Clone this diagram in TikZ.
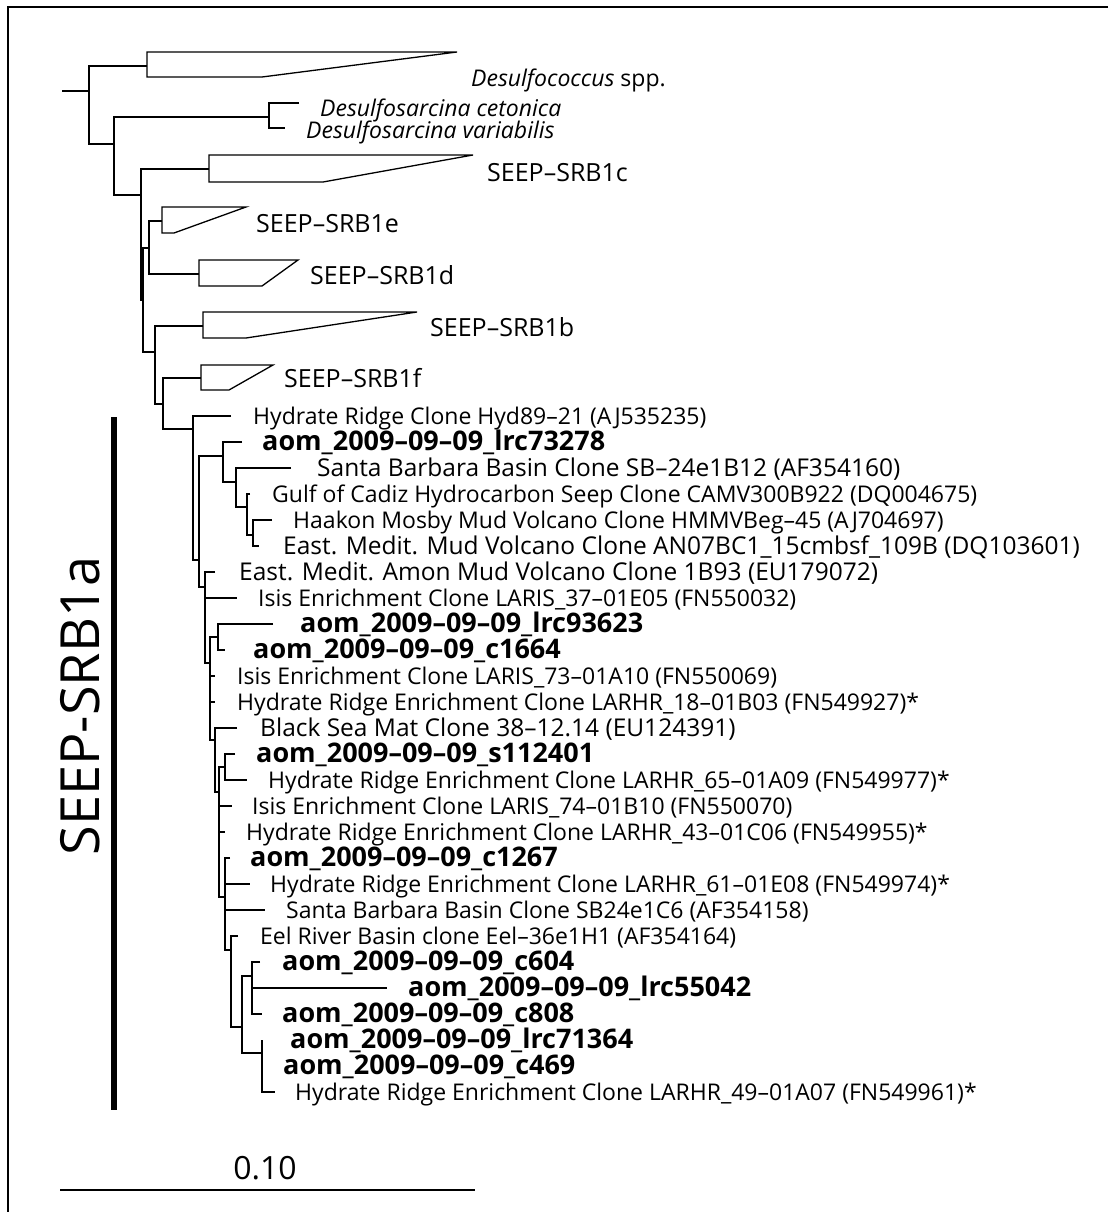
\documentclass[tikz,border=0pt]{standalone}
\usepackage{fontspec}
\setmainfont{Open Sans}
\newcommand{\fs}[1]{\fontsize{#1}{#1}\selectfont}
\begin{document}
\begin{tikzpicture}[x=1pt,y=-1pt,
	br/.style={line width=1.3pt},
	lab/.style={anchor=west,inner sep=0pt,text height=0.75em,text depth=0.22em,font=\fs{23}},
	big/.style={lab,font=\fs{24.5}},
	aom/.style={lab,font=\fs{27}\bfseries},
	grp/.style={lab,font=\fs{25}},
	spp/.style={lab,font=\fs{23}\itshape}]
	\useasboundingbox (0,0) rectangle (1108,1212);
	\draw[line width=2.4pt] (1108,7) -- (8,7) -- (8,1212);

	\draw[br] (62,91) -- (89,91);
	\draw[br] (147,66) -- (89,66) -- (89,144) -- (114,144);
	\draw[br] (147,52) -- (457,52) -- (262,77) -- (147,77) -- cycle;
	\draw[br] (269,117) -- (114,117) -- (114,195) -- (141,195);
	\draw[br] (299,103) -- (269,103) -- (269,128) -- (285,128);
	\draw[br] (209,169) -- (141,169) -- (141,300) -- (143,300);
	\draw[br] (209,155) -- (473,155) -- (323,182) -- (209,182) -- cycle;
	\draw[br] (149,248) -- (143,248) -- (143,352) -- (155,352);
	\draw[br] (162,221) -- (149,221) -- (149,274) -- (199,274);
	\draw[br] (162,207) -- (246,207) -- (174,233) -- (162,233) -- cycle;
	\draw[br] (199,260) -- (298,260) -- (262,286) -- (199,286) -- cycle;
	\draw[br] (203,326) -- (155,326) -- (155,404) -- (163,404);
	\draw[br] (203,312) -- (417,312) -- (246,338) -- (203,338) -- cycle;
	\draw[br] (201,378) -- (163,378) -- (163,429) -- (193,429);
	\draw[br] (201,365) -- (273,365) -- (229,390) -- (201,390) -- cycle;

	\draw[br] (231,416) -- (193,416) -- (193,560) -- (199,560);
	\draw[br] (223,456) -- (199,456) -- (199,587) -- (205,587);
	\draw[br] (242,442) -- (223,442) -- (223,482) -- (236,482);
	\draw[br] (291,468) -- (236,468) -- (236,507) -- (247,507);
	\draw[br] (250,494) -- (247,494) -- (247,535) -- (253,535);
	\draw[br] (272,520) -- (253,520) -- (253,546) -- (259,546);
	\draw[br] (215,572) -- (205,572) -- (205,663) -- (210,663);
	\draw[br] (205,598) -- (237,598);
	\draw[br] (218,637) -- (210,637) -- (210,740) -- (215,740);
	\draw[br] (210,676) -- (215,676);
	\draw[br] (210,702) -- (215,702);
	\draw[br] (273,624) -- (218,624) -- (218,650) -- (225,650);
	\draw[br] (237,728) -- (215,728) -- (215,792) -- (219,792);
	\draw[br] (225,767) -- (219,767) -- (219,897) -- (225,897);
	\draw[br] (219,806) -- (232,806);
	\draw[br] (219,832) -- (225,832);
	\draw[br] (235,754) -- (225,754) -- (225,780) -- (247,780);
	\draw[br] (230,858) -- (225,858) -- (225,950) -- (231,950);
	\draw[br] (225,884) -- (250,884);
	\draw[br] (225,910) -- (265,910);
	\draw[br] (238,936) -- (231,936) -- (231,1027) -- (242,1027);
	\draw[br] (252,976) -- (242,976) -- (242,1053) -- (262,1053);
	\draw[br] (260,962) -- (252,962) -- (252,1014) -- (262,1014);
	\draw[br] (252,988) -- (387,988);
	\draw[br] (262,1040) -- (262,1092) -- (275,1092);

	\node[spp] at (471,84) (dcoc) {Desulfococcus \upshape spp.};
	\node[spp] at (320,114) (dcet) {Desulfosarcina cetonica};
	\node[spp] at (306,136) (dvar) {Desulfosarcina variabilis};
	\node[grp] at (487,179) (srbc) {SEEP–SRB1c};
	\node[grp] at (256,230) (srbe) {SEEP–SRB1e};
	\node[grp] at (310,282) (srbd) {SEEP–SRB1d};
	\node[grp] at (430,334) (srbb) {SEEP–SRB1b};
	\node[grp] at (284,385) (srbf) {SEEP–SRB1f};

	\node[lab] at (253,422) (hyd89) {Hydrate Ridge Clone Hyd89–21 (AJ535235)};
	\node[aom] at (262,448) (lrc73278) {aom\_2009–09–09\_lrc73278};
	\node[big] at (317,474) (sb24b) {Santa Barbara Basin Clone SB–24e1B12 (AF354160)};
	\node[lab] at (272,500) (camv) {Gulf of Cadiz Hydrocarbon Seep Clone CAMV300B922 (DQ004675)};
	\node[lab] at (293,526) (hmmv) {Haakon Mosby Mud Volcano Clone HMMVBeg–45 (AJ704697)};
	\node[big] at (283,552) (an07) {East. Medit. Mud Volcano Clone AN07BC1\_15cmbsf\_109B (DQ103601)};
	\node[big] at (239,578) (amon) {East. Medit. Amon Mud Volcano Clone 1B93 (EU179072)};
	\node[lab] at (258,604) (laris37) {Isis Enrichment Clone LARIS\_37–01E05 (FN550032)};
	\node[aom] at (300,630) (lrc93623) {aom\_2009–09–09\_lrc93623};
	\node[aom] at (253,656) (c1664) {aom\_2009–09–09\_c1664};
	\node[lab] at (237,682) (laris73) {Isis Enrichment Clone LARIS\_73–01A10 (FN550069)};
	\node[lab] at (237,708) (larhr18) {Hydrate Ridge Enrichment Clone LARHR\_18–01B03 (FN549927)*};
	\node[big] at (260,734) (bsea) {Black Sea Mat Clone 38–12.14 (EU124391)};
	\node[aom] at (256,760) (s112401) {aom\_2009–09–09\_s112401};
	\node[lab] at (268,786) (larhr65) {Hydrate Ridge Enrichment Clone LARHR\_65–01A09 (FN549977)*};
	\node[lab] at (252,812) (laris74) {Isis Enrichment Clone LARIS\_74–01B10 (FN550070)};
	\node[lab] at (246,838) (larhr43) {Hydrate Ridge Enrichment Clone LARHR\_43–01C06 (FN549955)*};
	\node[aom] at (250,864) (c1267) {aom\_2009–09–09\_c1267};
	\node[lab] at (270,890) (larhr61) {Hydrate Ridge Enrichment Clone LARHR\_61–01E08 (FN549974)*};
	\node[lab] at (286,916) (sb24c) {Santa Barbara Basin Clone SB24e1C6 (AF354158)};
	\node[lab] at (260,942) (eel) {Eel River Basin clone Eel–36e1H1 (AF354164)};
	\node[aom] at (282,968) (c604) {aom\_2009–09–09\_c604};
	\node[aom] at (408,994) (lrc55042) {aom\_2009–09–09\_lrc55042};
	\node[aom] at (282,1020) (c808) {aom\_2009–09–09\_c808};
	\node[aom] at (290,1046) (lrc71364) {aom\_2009–09–09\_lrc71364};
	\node[aom] at (283,1072) (c469) {aom\_2009–09–09\_c469};
	\node[lab] at (295,1098) (larhr49) {Hydrate Ridge Enrichment Clone LARHR\_49–01A07 (FN549961)*};

	\draw[line width=6pt] (114,417) -- (114,1110);
	\node[rotate=90,font=\fs{54}] at (80,706) (srba) {SEEP-SRB1a};

	\draw[line width=1.5pt] (60,1190) -- (475,1190);
	\node[font=\fs{32}] at (265,1168) (scale) {0.10};
\end{tikzpicture}
\end{document}
